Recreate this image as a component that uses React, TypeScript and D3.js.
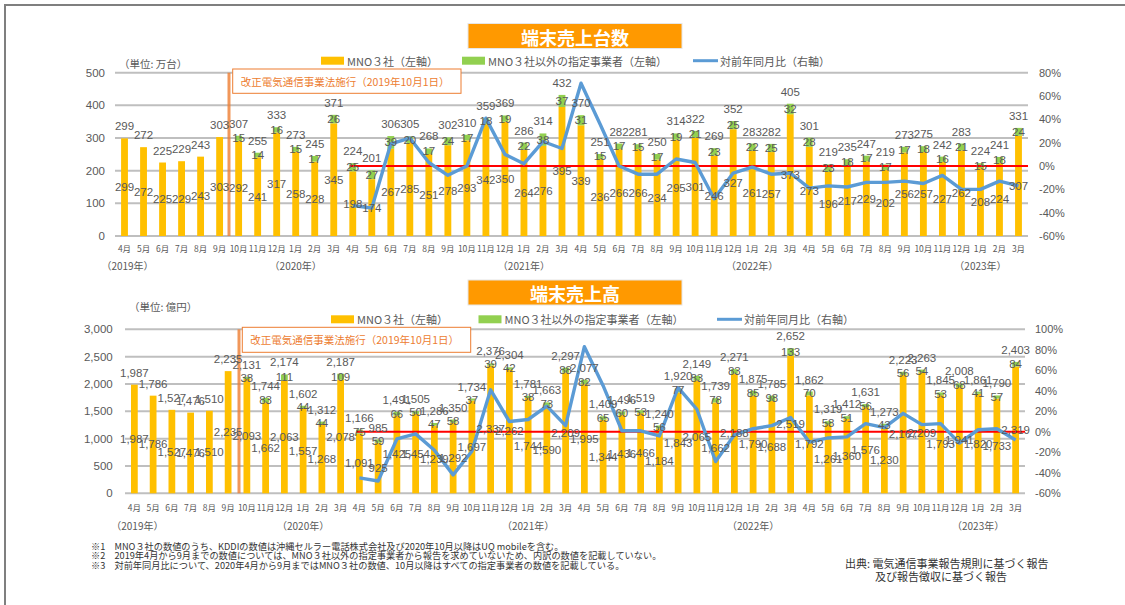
import React, { useEffect, useRef } from "react";
import * as d3 from "d3";

// months: April 2019 .. March 2023 (fiscal years)
const fiscalYears = [2019, 2020, 2021, 2022];
const monthNames = ["4月", "5月", "6月", "7月", "8月", "9月", "10月", "11月", "12月", "1月", "2月", "3月"];
const yearLabels = ["（2019年）", "（2020年）", "（2021年）", "（2022年）", "（2023年）"];
const yearLabelAt = ["2019-4月", "2019-1月", "2020-1月", "2021-1月", "2022-1月"];

// 端末売上台数 (万台)
const unitsMno = [
  299, 272, 225, 229, 243, 303, 292, 241, 317, 258, 228, 345,
  198, 174, 267, 285, 251, 278, 293, 342, 350, 264, 276, 395,
  339, 236, 266, 266, 234, 295, 301, 246, 327, 261, 257, 373,
  273, 196, 217, 229, 202, 256, 257, 227, 262, 208, 224, 307,
];
const unitsOther = [
  null, null, null, null, null, null, 15, 14, 16, 15, 17, 26,
  25, 27, 39, 20, 17, 24, 17, 18, 19, 22, 38, 37,
  31, 15, 17, 15, 17, 19, 21, 23, 25, 22, 25, 32,
  28, 23, 18, 17, 17, 17, 18, 16, 21, 15, 18, 24,
];
const unitsTotal = [
  299, 272, 225, 229, 243, 303, 307, 255, 333, 273, 245, 371,
  224, 201, 306, 305, 268, 302, 310, 359, 369, 286, 314, 432,
  370, 251, 282, 281, 250, 314, 322, 269, 352, 283, 282, 405,
  301, 219, 235, 247, 219, 273, 275, 242, 283, 224, 241, 331,
];
const unitsYoY = [
  null, null, null, null, null, null, null, null, null, null, null, null,
  -34, -36, 19, 24, 3, -8, 0, 41, 10, 2, 21, 15,
  71, 36, 0, -7, -7, 6, 3, -28, -6, -1, -7, -6,
  -19, -17, -18, -14, -14, -13, -15, -8, -20, -20, -13, -17,
];

// 端末売上高 (億円)
const salesMno = [
  1987, 1786, 1527, 1476, 1510, 2235, 2093, 1662, 2063, 1557, 1268, 2078,
  1091, 925, 1425, 1454, 1239, 1292, 1697, 2337, 2262, 1744, 1590, 2209,
  1995, 1344, 1436, 1466, 1184, 1843, 2065, 1662, 2188, 1790, 1688, 2519,
  1792, 1261, 1360, 1576, 1230, 2167, 2209, 1793, 1941, 1820, 1733, 2319,
];
const salesOther = [
  null, null, null, null, null, null, 38, 83, 111, 44, 44, 109,
  75, 59, 66, 50, 47, 58, 37, 39, 42, 38, 73, 88,
  82, 65, 60, 53, 56, 77, 83, 78, 83, 85, 98, 133,
  70, 58, 51, 56, 43, 56, 54, 53, 68, 41, 57, 84,
];
const salesTotal = [
  1987, 1786, 1527, 1476, 1510, 2235, 2131, 1744, 2174, 1602, 1312, 2187,
  1166, 985, 1491, 1505, 1286, 1350, 1734, 2376, 2304, 1781, 1663, 2297,
  2077, 1409, 1496, 1519, 1240, 1920, 2149, 1739, 2271, 1875, 1785, 2652,
  1862, 1319, 1412, 1631, 1273, 2223, 2263, 1845, 2008, 1861, 1790, 2403,
];
const salesYoY = [
  null, null, null, null, null, null, null, null, null, null, null, null,
  -45, -48, -7, -2, -18, -42, -19, 41, 10, 12, 25, 6,
  83, 45, 1, 1, -4, 43, 22, -29, -3, 3, 6, 14,
  -10, -6, -5, 8, 4, 18, 7, 8, -11, 2, 3, -8,
];

const legendNames = ["MNO３社（左軸）", "MNO３社以外の指定事業者（左軸）", "対前年同月比（右軸）"];
const lawNote = "改正電気通信事業法施行（2019年10月1日）";
const footnotes = [
  "※1　MNO３社の数値のうち、KDDIの数値は沖縄セルラー電話株式会社及び2020年10月以降はUQ mobileを含む。",
  "※2　2019年4月から9月までの数値については、MNO３社以外の指定事業者から報告を求めていないため、内訳の数値を記載していない。",
  "※3　対前年同月比について、2020年4月から9月まではMNO３社の数値、10月以降はすべての指定事業者の数値を記載している。",
];
const sourceLines = ["出典: 電気通信事業報告規則に基づく報告", "及び報告徴収に基づく報告"];

const periods = fiscalYears.flatMap((fy) => monthNames.map((m) => `${fy}-${m}`));

const NUM_FONT = "'Liberation Sans', Arial, 'Noto Sans CJK JP', sans-serif";
const JP_FONT = "'Noto Sans CJK JP', 'Noto Sans', sans-serif";
const GRAY = "#595959";
const YELLOW = "#FFC000";
const GREEN = "#92D050";
const BLUE = "#5B9BD5";
const ORANGE = "#ED7D31";

type Cfg = {
  title: string;
  unit: string;
  mno: number[];
  other: (number | null)[];
  total: number[];
  yoy: (number | null)[];
  left: number;
  right: number;
  top: number;
  bottom: number;
  yMax: number;
  yStep: number;
  pctMax: number;
  fmt: (n: number) => string;
  leftLabelX: number;
  rightLabelX: number;
  legendY: number;
  legendX: number[];
  unitX: number;
  unitY: number;
  titleY: number;
  noteBox: [number, number, number, number];
  monthY: number;
  yearY: number;
  lawLineX: number;
};

function drawChart(root: d3.Selection<SVGSVGElement, unknown, null, undefined>, cfg: Cfg) {
  const g = root.append("g");
  const x = d3.scaleBand<string>().domain(periods).range([cfg.left, cfg.right]).paddingInner(0.64).paddingOuter(0.32);
  const cx = (i: number) => (x(periods[i]) as number) + x.bandwidth() / 2;
  const y = d3.scaleLinear().domain([0, cfg.yMax]).range([cfg.bottom, cfg.top]);
  const yR = d3.scaleLinear().domain([-60, cfg.pctMax]).range([cfg.bottom, cfg.top]);

  // title box
  g.append("rect")
    .attr("x", 468).attr("y", cfg.titleY).attr("width", 214).attr("height", 25)
    .attr("fill", "#FF9900").attr("stroke", "#E6E6E6").attr("stroke-width", 1);
  g.append("text")
    .attr("x", 575).attr("y", cfg.titleY + 13).attr("text-anchor", "middle").attr("dominant-baseline", "central")
    .attr("font-family", JP_FONT).attr("font-weight", "bold").attr("font-size", 18).attr("fill", "#fff")
    .text(cfg.title);

  // unit
  g.append("text")
    .attr("x", cfg.unitX).attr("y", cfg.unitY).attr("dominant-baseline", "central")
    .attr("font-family", JP_FONT).attr("font-size", 10.5).attr("fill", GRAY).text(cfg.unit);

  // legend
  const lg = g.append("g").attr("font-family", JP_FONT).attr("font-size", 11).attr("fill", GRAY);
  [YELLOW, GREEN].forEach((c, k) => {
    lg.append("rect").attr("x", cfg.legendX[k]).attr("y", cfg.legendY - 4).attr("width", 23).attr("height", 8).attr("fill", c);
  });
  lg.append("line")
    .attr("x1", cfg.legendX[2]).attr("x2", cfg.legendX[2] + 25).attr("y1", cfg.legendY).attr("y2", cfg.legendY)
    .attr("stroke", BLUE).attr("stroke-width", 3);
  legendNames.forEach((name, k) => {
    lg.append("text")
      .attr("x", cfg.legendX[k] + (k === 2 ? 27 : 26)).attr("y", cfg.legendY).attr("dominant-baseline", "central")
      .text(name);
  });

  // grid + left axis
  const ticks = d3.range(0, cfg.yMax + 1, cfg.yStep);
  g.append("g").selectAll("line").data(ticks).join("line")
    .attr("x1", cfg.left).attr("x2", cfg.right)
    .attr("y1", (d) => y(d)).attr("y2", (d) => y(d))
    .attr("stroke", "#BFBFBF").attr("stroke-width", 2);
  g.append("g").selectAll("text").data(ticks).join("text")
    .attr("x", cfg.leftLabelX).attr("y", (d) => y(d)).attr("text-anchor", "end").attr("dominant-baseline", "central")
    .attr("font-family", NUM_FONT).attr("font-size", 11.5).attr("fill", GRAY)
    .text((d) => cfg.fmt(d));

  // right axis
  const pctTicks = d3.range(-60, cfg.pctMax + 1, 20);
  g.append("g").selectAll("text").data(pctTicks).join("text")
    .attr("x", cfg.rightLabelX).attr("y", (d) => yR(d)).attr("dominant-baseline", "central")
    .attr("font-family", NUM_FONT).attr("font-size", 11).attr("fill", GRAY)
    .text((d) => `${d}%`);

  // bars
  const bw = x.bandwidth();
  g.append("g").selectAll("rect").data(cfg.mno).join("rect")
    .attr("x", (_, i) => cx(i) - bw / 2).attr("width", bw)
    .attr("y", (d) => y(d)).attr("height", (d) => y(0) - y(d))
    .attr("fill", YELLOW);
  g.append("g").selectAll("rect").data(cfg.other).join("rect")
    .attr("x", (_, i) => cx(i) - bw / 2).attr("width", bw)
    .attr("y", (d, i) => y(cfg.mno[i] + (d ?? 0)))
    .attr("height", (d, i) => y(cfg.mno[i]) - y(cfg.mno[i] + (d ?? 0)))
    .attr("fill", GREEN);

  // law change marker
  g.append("line")
    .attr("x1", cfg.lawLineX).attr("x2", cfg.lawLineX).attr("y1", cfg.top).attr("y2", cfg.bottom)
    .attr("stroke", ORANGE).attr("stroke-opacity", 0.8).attr("stroke-width", 3);
  const [bx, by, bwid, bh] = cfg.noteBox;
  g.append("rect").attr("x", bx).attr("y", by).attr("width", bwid).attr("height", bh)
    .attr("fill", "#fff").attr("stroke", ORANGE).attr("stroke-width", 1);
  g.append("text")
    .attr("x", bx + 8).attr("y", by + bh / 2).attr("dominant-baseline", "central")
    .attr("font-family", JP_FONT).attr("font-size", 10.5).attr("fill", ORANGE)
    .text(lawNote);

  // zero line for YoY
  const firstYoY = cfg.yoy.findIndex((v) => v != null);
  g.append("line")
    .attr("x1", cx(firstYoY) - 3).attr("x2", cfg.right).attr("y1", yR(0)).attr("y2", yR(0))
    .attr("stroke", "#FF0000").attr("stroke-width", 2);

  // YoY line
  const line = d3.line<number | null>()
    .defined((d) => d != null)
    .x((_, i) => cx(i))
    .y((d) => yR(d as number));
  g.append("path").datum(cfg.yoy)
    .attr("fill", "none").attr("stroke", BLUE).attr("stroke-width", 3.4)
    .attr("stroke-linejoin", "round").attr("d", line);

  // data labels
  const labels = g.append("g").attr("font-family", NUM_FONT).attr("font-size", 11.5).attr("fill", GRAY)
    .attr("text-anchor", "middle").attr("dominant-baseline", "central");
  cfg.mno.forEach((v, i) => {
    const o = cfg.other[i];
    labels.append("text").attr("x", cx(i)).attr("y", y(v / 2)).text(cfg.fmt(v));
    if (o != null) labels.append("text").attr("x", cx(i)).attr("y", y(v + o / 2)).text(cfg.fmt(o));
    labels.append("text").attr("x", cx(i)).attr("y", y(v + (o ?? 0)) - 12).text(cfg.fmt(cfg.total[i]));
  });

  // x axis labels
  g.append("g").selectAll("text").data(periods).join("text")
    .attr("x", (_, i) => cx(i)).attr("y", cfg.monthY).attr("text-anchor", "middle").attr("dominant-baseline", "central")
    .attr("font-family", JP_FONT).attr("font-size", 8.5).attr("fill", GRAY)
    .text((d) => d.split("-")[1]);
  g.append("g").selectAll("text").data(yearLabels).join("text")
    .attr("x", (_, k) => cx(periods.indexOf(yearLabelAt[k])) + (k === 0 ? 3 : 0))
    .attr("y", cfg.yearY).attr("text-anchor", "middle").attr("dominant-baseline", "central")
    .attr("font-family", JP_FONT).attr("font-size", 10).attr("fill", GRAY)
    .text((d) => d);
}

const App = () => {
  const svgRef = useRef<SVGSVGElement>(null);

  useEffect(() => {
    const svg = d3.select(svgRef.current as SVGSVGElement);
    svg.selectAll("*").remove();

    svg.append("rect").attr("width", 1125).attr("height", 605).attr("fill", "#fff");
    svg.append("path").attr("d", "M5,605 V5 H1125").attr("fill", "none").attr("stroke", "#7F7F7F").attr("stroke-width", 2);

    const fmtUnits = (n: number) => d3.format("d")(n);
    const fmtSales = (n: number) => d3.format(",")(n);

    drawChart(svg, {
      title: "端末売上台数", unit: "（単位: 万台）",
      mno: unitsMno, other: unitsOther, total: unitsTotal, yoy: unitsYoY,
      left: 115, right: 1028, top: 72.7, bottom: 236, yMax: 500, yStep: 100, pctMax: 80,
      fmt: fmtUnits, leftLabelX: 105, rightLabelX: 1039,
      legendY: 60.7, legendX: [321, 462, 693], unitX: 119, unitY: 63.5, titleY: 23.5,
      noteBox: [232.7, 69, 228.3, 24.3], monthY: 248.3, yearY: 265, lawLineX: 229,
    });
    drawChart(svg, {
      title: "端末売上高", unit: "（単位: 億円）",
      mno: salesMno, other: salesOther, total: salesTotal, yoy: salesYoY,
      left: 125, right: 1025, top: 329.3, bottom: 493.3, yMax: 3000, yStep: 500, pctMax: 100,
      fmt: fmtSales, leftLabelX: 112.7, rightLabelX: 1035,
      legendY: 319.3, legendX: [331, 478.5, 717], unitX: 129, unitY: 306.7, titleY: 280,
      noteBox: [242.3, 327.3, 228.4, 25], monthY: 506.7, yearY: 525, lawLineX: 239,
    });

    const notes = svg.append("g").attr("font-family", JP_FONT).attr("font-size", 9.2).attr("fill", "#333");
    footnotes.forEach((t, k) => {
      notes.append("text").attr("x", 91).attr("y", 545.7 + k * 9.6).attr("dominant-baseline", "central").text(t);
    });
    const src = svg.append("g").attr("font-family", JP_FONT).attr("font-size", 11).attr("fill", "#333");
    sourceLines.forEach((t, k) => {
      src.append("text").attr("x", k === 0 ? 845 : 875).attr("y", 562.5 + k * 13).attr("dominant-baseline", "central").text(t);
    });
  }, []);

  return (
    <div style={{ position: "absolute", left: 0, top: 0 }}>
      <svg ref={svgRef} width={1125} height={605} style={{ display: "block" }}></svg>
    </div>
  );
};

export default App;
